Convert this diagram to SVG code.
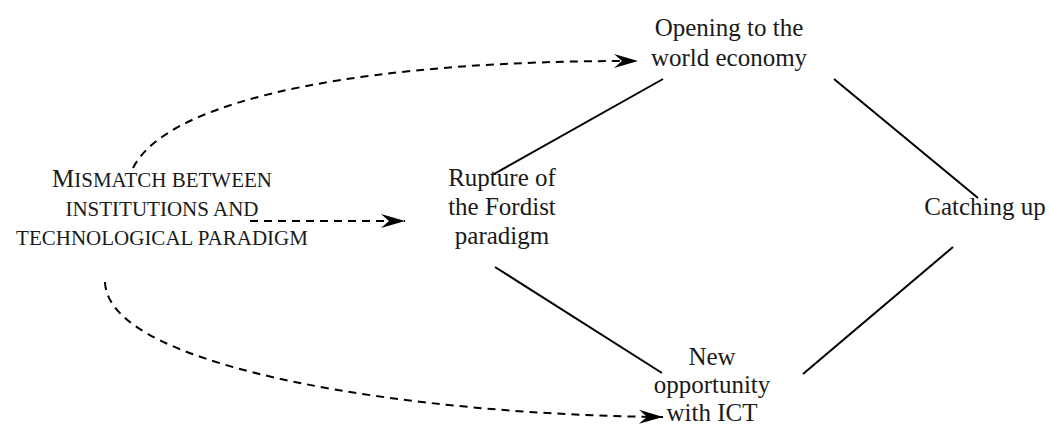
<svg xmlns="http://www.w3.org/2000/svg" width="1050" height="427" viewBox="0 0 1050 427">
<style>
text{font-family:"Liberation Serif","DejaVu Serif",serif;font-size:25px;fill:#1a1a1a;text-anchor:middle}
.sc{font-size:21px}
.solid{stroke:#000;stroke-width:2;fill:none}
.dash{stroke:#000;stroke-width:2;fill:none;stroke-dasharray:8 6}
</style>
<defs>
<marker id="arr" markerUnits="userSpaceOnUse" markerWidth="30" markerHeight="20" viewBox="-26 -10 30 20" refX="0" refY="0" orient="auto">
<path d="M0,0 L-24,-7 L-16,0 L-24,7 Z" fill="#000"/>
</marker>
</defs>
<rect width="1050" height="427" fill="#fff"/>
<g id="connectors">
<line class="solid" x1="663" y1="79" x2="494" y2="174"/>
<line class="solid" x1="834" y1="79" x2="978" y2="198"/>
<line class="solid" x1="953" y1="247" x2="803" y2="374"/>
<line class="solid" x1="495" y1="267" x2="662" y2="373"/>
<path class="dash" d="M133,168 C170,95 380,60 638,61" marker-end="url(#arr)"/>
<path class="dash" d="M250,221 L405,221" marker-end="url(#arr)"/>
<path class="dash" d="M105,282 C108,370 420,415 663,417" marker-end="url(#arr)"/>
</g>
<g id="node-opening">
<text x="729" y="36">Opening to the</text>
<text x="729" y="66">world economy</text>
</g>
<g id="node-rupture">
<text x="502" y="186">Rupture of</text>
<text x="502" y="215">the Fordist</text>
<text x="502" y="244">paradigm</text>
</g>
<g id="node-catching">
<text x="985" y="215">Catching up</text>
</g>
<g id="node-new">
<text x="712" y="365">New</text>
<text x="712" y="393">opportunity</text>
<text x="712" y="421">with ICT</text>
</g>
<g id="node-mismatch">
<text x="162" y="187">M<tspan class="sc">ISMATCH BETWEEN</tspan></text>
<text x="162" y="216" class="sc">INSTITUTIONS AND</text>
<text x="162" y="245" class="sc">TECHNOLOGICAL PARADIGM</text>
</g>
</svg>
